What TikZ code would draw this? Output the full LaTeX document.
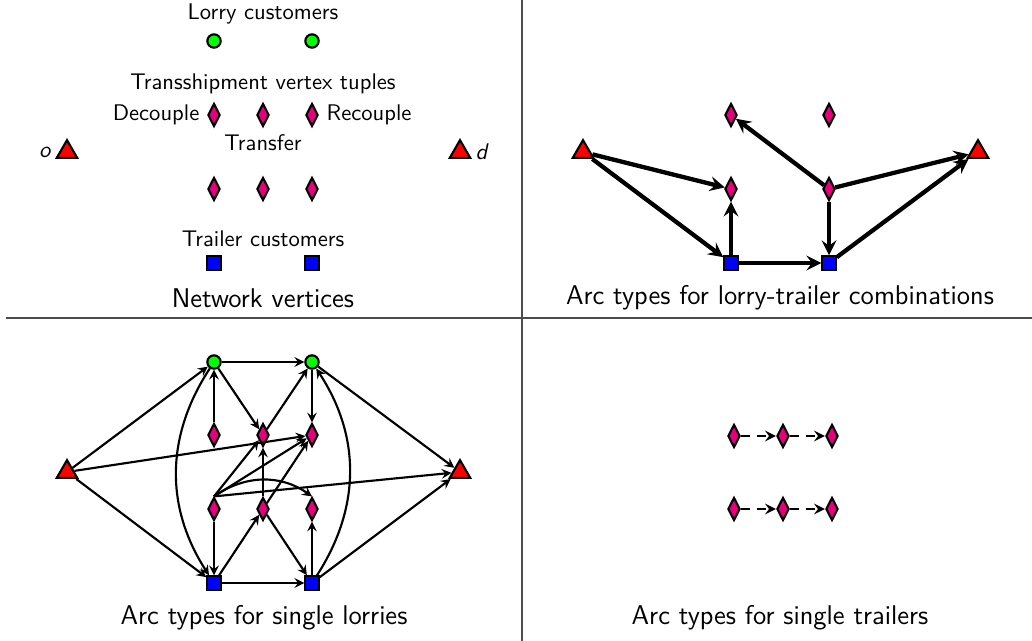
\documentclass[tikz,border=0pt]{standalone}
\usetikzlibrary{shapes.geometric,positioning}
\tikzset{>=stealth}
\renewcommand{\familydefault}{\sfdefault}
\definecolor{tupleColor}{RGB}{230,0,126}
\colorlet{ruleColor}{black!70}
\tikzset{
  every node/.style={font=\fontsize{10.6}{13}\selectfont},
  lorry/.style={circle,draw,line width=1pt,fill=green,minimum size=0.22cm,inner sep=0pt},
  tuple/.style={diamond,draw,line width=1pt,fill=tupleColor,minimum width=0.2cm,minimum height=0.38cm,inner sep=0pt},
  depot/.style={regular polygon,regular polygon sides=3,draw,line width=1pt,fill=red,minimum size=0.39cm,inner sep=0pt},
  trailer/.style={rectangle,draw,line width=1pt,fill=blue,minimum size=0.22cm,inner sep=0pt},
  combiarc/.style={->,line width=2pt},
  lorryarc/.style={->,line width=1pt},
  trailerarc/.style={->,line width=1.2pt,dash pattern=on 4pt off 3.5pt},
  caption/.style={font=\fontsize{12.7}{15}\selectfont},
}

\begin{document}
\begin{tikzpicture}[x=0.016473cm,y=-0.016473cm]
		\useasboundingbox (0,0) rectangle (1032,641);
		\draw[ruleColor, thick] (522,0) -- (522,641);
		\draw[ruleColor, thick] (6,318) -- (1032,318);
		
		% network vertices
		\node (nLorryText) at (263,14) {Lorry customers};
		\node[lorry] (nL1) at (214,41) {};
		\node[lorry] (nL2) at (312,41) {};
		\node (nTupleText) at (263,84) {Transshipment vertex tuples};
		\node[tuple,label={left:Decouple}] (nD1) at (214,115) {};
		\node[tuple] (nD2) at (263,115) {};
		\node[tuple,label={right:Recouple}] (nD3) at (312,115) {};
		\node (nTransferText) at (263,143) {Transfer};
		\node[depot,label={left:\textit{o}}] (nO) at (67,152) {};
		\node[depot,label={right:\textit{d}}] (nDest) at (460,152) {};
		\node[tuple] (nT1) at (214,189) {};
		\node[tuple] (nT2) at (263,189) {};
		\node[tuple] (nT3) at (312,189) {};
		\node (nTrailerText) at (263,239) {Trailer customers};
		\node[trailer] (nS1) at (214,263) {};
		\node[trailer] (nS2) at (312,263) {};
		\node[caption] (nCaption) at (263,298) {Network vertices};
		
		% lorry-trailer combinations
		\node[depot] (cO) at (583,152) {};
		\node[depot] (cDest) at (978,152) {};
		\node[tuple] (cD1) at (731,115) {};
		\node[tuple] (cD3) at (829,115) {};
		\node[tuple] (cT1) at (731,189) {};
		\node[tuple] (cT3) at (829,189) {};
		\node[trailer] (cS1) at (731,263) {};
		\node[trailer] (cS2) at (829,263) {};
		\node[caption] (cCaption) at (780,298) {Arc types for lorry-trailer combinations};
		\draw[combiarc] (cO) -- (cT1);
		\draw[combiarc] (cO) -- (cS1);
		\draw[combiarc] (cS1) -- (cT1);
		\draw[combiarc] (cS1) -- (cS2);
		\draw[combiarc] (cT3) -- (cD1);
		\draw[combiarc] (cT3) -- (cDest);
		\draw[combiarc] (cT3) -- (cS2);
		\draw[combiarc] (cS2) -- (cDest);
		
		% single lorries
		\node[depot] (lO) at (67,472) {};
		\node[depot] (lDest) at (460,472) {};
		\node[lorry] (lL1) at (214,362) {};
		\node[lorry] (lL2) at (312,362) {};
		\node[tuple] (lD1) at (214,435) {};
		\node[tuple] (lD2) at (263,435) {};
		\node[tuple] (lD3) at (312,435) {};
		\node[tuple] (lT1) at (214,509) {};
		\node[tuple] (lT2) at (263,509) {};
		\node[tuple] (lT3) at (312,509) {};
		\node[trailer] (lS1) at (214,583) {};
		\node[trailer] (lS2) at (312,583) {};
		\node[caption] (lCaption) at (264,618) {Arc types for single lorries};
		\draw[lorryarc] (lO) -- (lL1);
		\draw[lorryarc] (lO) -- (lS1);
		\draw[lorryarc] (lO) -- (lD3);
		\draw[lorryarc] (lL1) -- (lL2);
		\draw[lorryarc] (lL2) -- (lDest);
		\draw[lorryarc] (lS2) -- (lDest);
		\draw[lorryarc] (lL1) -- (lD2);
		\draw[lorryarc] (lD1) -- (lL1);
		\draw[lorryarc] (lL1) to[bend right=33] (lS1);
		\draw[lorryarc] (lS2) to[bend right=33] (lL2);
		\draw[lorryarc] (lL2) -- (lD3);
		\draw[lorryarc] (lD2) -- (lL2);
		\draw[lorryarc] (lT1.north) -- (lD2);
		\draw[lorryarc] (lT1.north) -- (lD3);
		\draw[lorryarc] (lT1.north) to[bend left=35] (lT3.north);
		\draw[lorryarc] (lT1.north) -- (lDest);
		\draw[lorryarc] (lT2) -- (lD2);
		\draw[lorryarc] (lT2) -- (lD3);
		\draw[lorryarc] (lS1) -- (lT2);
		\draw[lorryarc] (lT2) -- (lS2);
		\draw[lorryarc] (lT1) -- (lS1);
		\draw[lorryarc] (lS2) -- (lT3);
		\draw[lorryarc] (lS1) -- (lS2);
		
		% single trailers
		\node[tuple] (tA1) at (734,436) {};
		\node[tuple] (tA2) at (783,436) {};
		\node[tuple] (tA3) at (832,436) {};
		\node[tuple] (tB1) at (734,509) {};
		\node[tuple] (tB2) at (783,509) {};
		\node[tuple] (tB3) at (832,509) {};
		\node[caption] (tCaption) at (780,618) {Arc types for single trailers};
		\draw[trailerarc] (tA1) -- (tA2);
		\draw[trailerarc] (tA2) -- (tA3);
		\draw[trailerarc] (tB1) -- (tB2);
		\draw[trailerarc] (tB2) -- (tB3);
		\end{tikzpicture}
\end{document}
